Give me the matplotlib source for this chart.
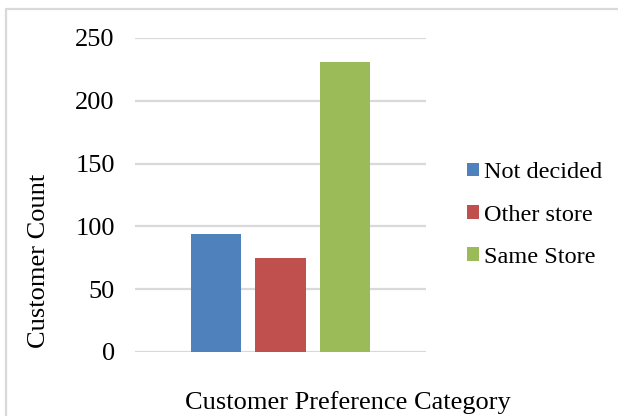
import matplotlib
matplotlib.use("Agg")
import matplotlib.pyplot as plt
from matplotlib.lines import Line2D

plt.rcParams['font.family'] = ['Liberation Serif', 'DejaVu Serif']

categories = ["Not decided", "Other store", "Same Store"]
counts = [94, 75, 231]
colors = ["#4f81bd", "#c0504d", "#9bbb59"]
yticks = [0, 50, 100, 150, 200, 250]

W, H = 618, 416
fig = plt.figure(figsize=(W / 100, H / 100), dpi=100)
ax = fig.add_axes([135 / W, 64 / H, 291 / W, 314 / H])

fs = 19
ax.set_ylim(0, 250)
ax.set_yticks(yticks)
ax.yaxis.grid(True, color="#d9d9d9", linewidth=1.6)
ax.set_axisbelow(True)
for s in ax.spines.values():
    s.set_visible(False)
ax.tick_params(axis="y", length=0, pad=14.5, labelsize=fs)
ax.tick_params(axis="x", length=0, labelbottom=False)

x = list(range(len(categories)))
ax.bar(x, counts, width=0.79, color=colors, label=categories, zorder=3)
ax.set_xlim(1 - 2.256, 1 + 2.256)

leg = fig.legend(loc="center left", bbox_to_anchor=(467 / W, 1 - 215 / H),
                 frameon=False, fontsize=17.5, handlelength=0.5, handleheight=0.5,
                 handletextpad=0.22, labelspacing=0.88, borderpad=0, borderaxespad=0)

fig.text(39 / W, 1 - 261 / H, "Customer Count", rotation=90,
         ha="center", va="center", fontsize=fs)
fig.text(348 / W, 1 - 409 / H, "Customer Preference Category",
         ha="center", va="baseline", fontsize=fs)

# chart area border (top and left edges only are visible)
fig.add_artist(Line2D([6 / W, 6 / W, 1.0], [0.0, 1 - 9 / H, 1 - 9 / H],
                      transform=fig.transFigure, color="#d9d9d9", linewidth=1.6))

fig.savefig("out.png", dpi=100)
